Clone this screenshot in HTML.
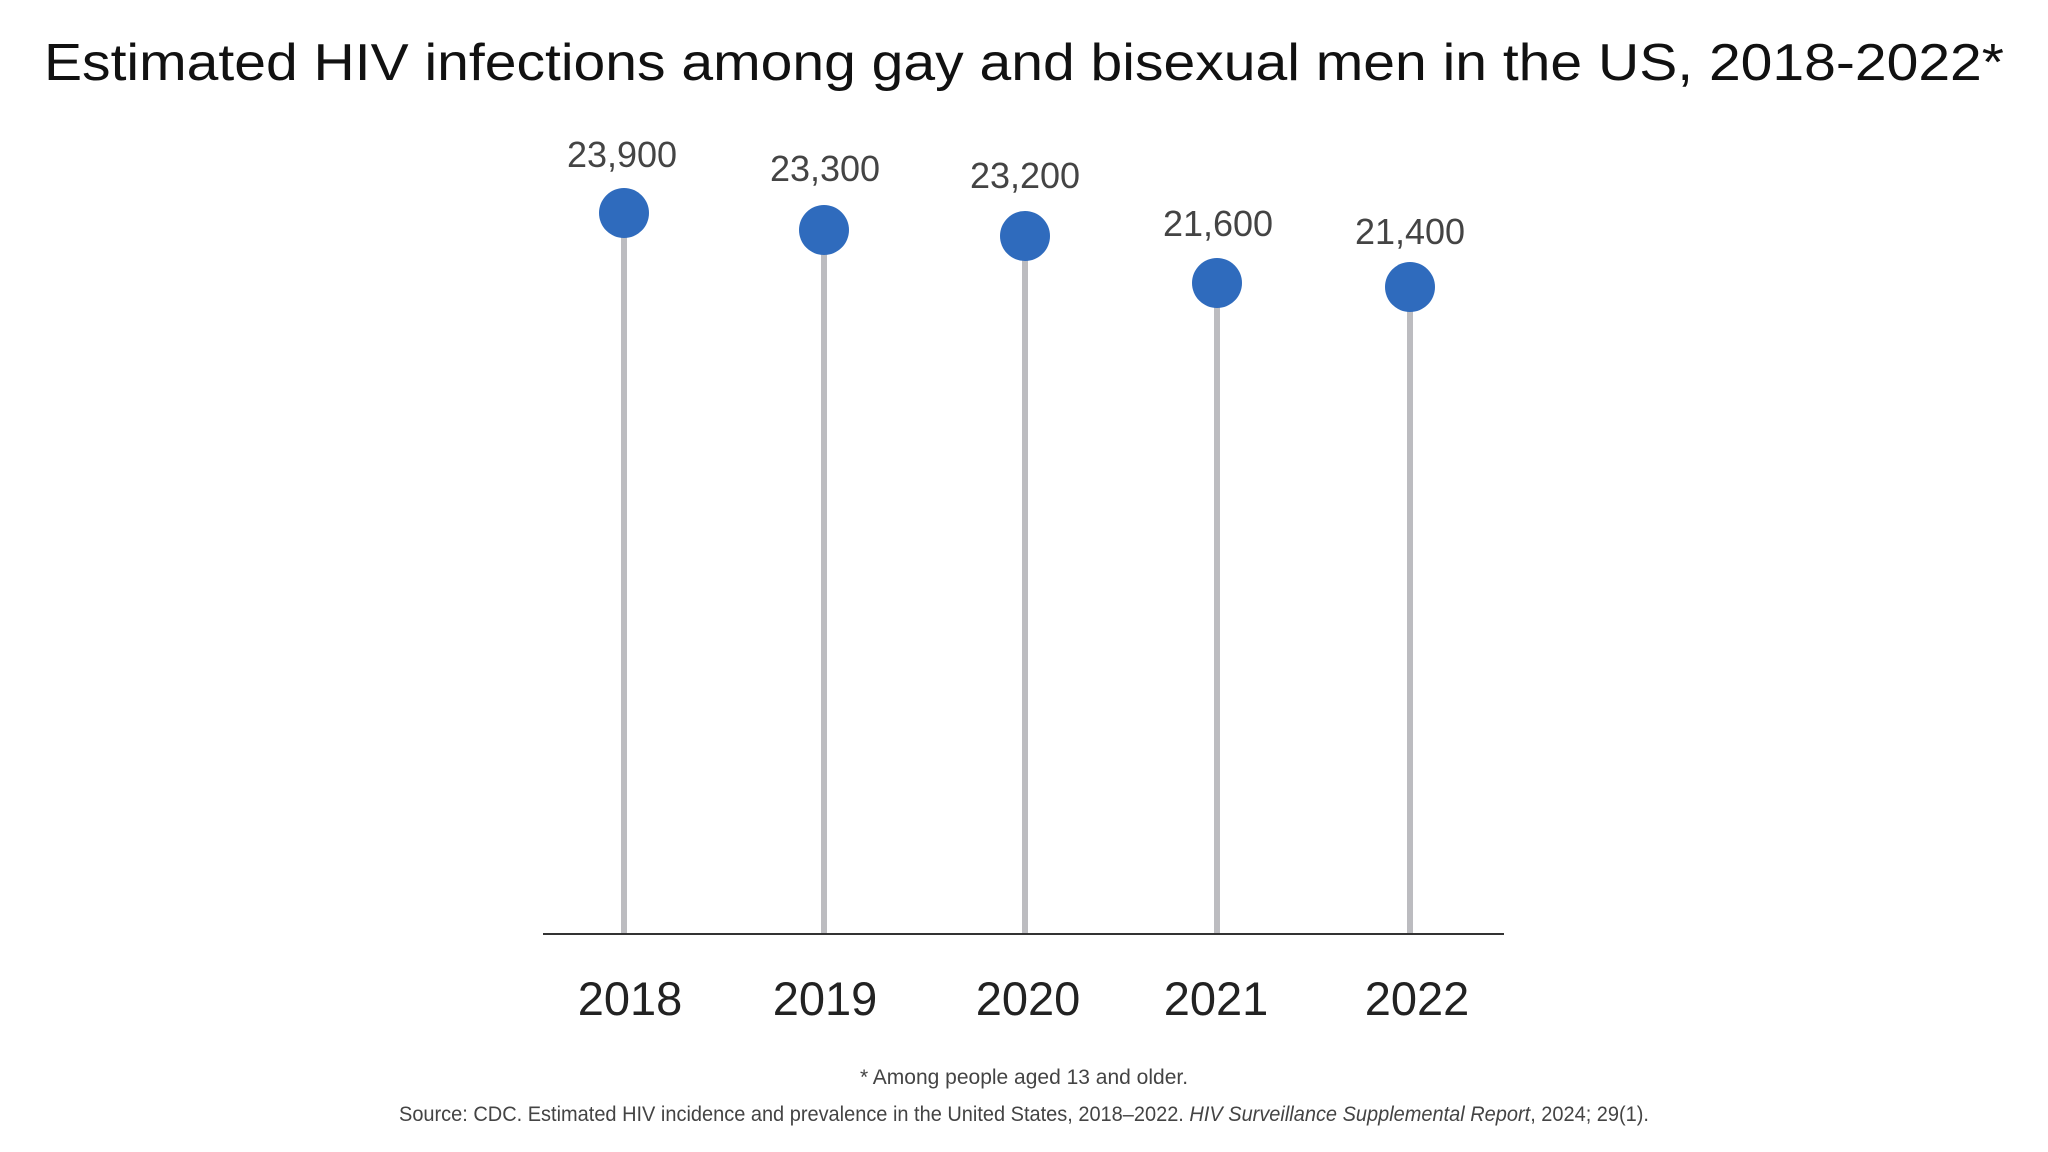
<!DOCTYPE html>
<html><head><meta charset="utf-8"><style>
html,body{margin:0;padding:0;background:#fff;}
svg{display:block;}
text{font-family:"Liberation Sans",sans-serif;}
</style></head><body>
<svg width="2048" height="1152" viewBox="0 0 2048 1152" xmlns="http://www.w3.org/2000/svg">
<text x="1024" y="80" text-anchor="middle" font-size="52" fill="#111" textLength="1960" lengthAdjust="spacingAndGlyphs">Estimated HIV infections among gay and bisexual men in the US, 2018-2022*</text>
<g stroke="#bcbcc0" stroke-width="6">
<line x1="624" y1="213" x2="624" y2="934"/>
<line x1="824" y1="230" x2="824" y2="934"/>
<line x1="1025" y1="236" x2="1025" y2="934"/>
<line x1="1217" y1="283" x2="1217" y2="934"/>
<line x1="1410" y1="287" x2="1410" y2="934"/>
</g>
<line x1="543" y1="934" x2="1504" y2="934" stroke="#333" stroke-width="2"/>
<g fill="#2f6bbd">
<circle cx="624" cy="213" r="25"/>
<circle cx="824" cy="230" r="25"/>
<circle cx="1025" cy="236" r="25"/>
<circle cx="1217" cy="283" r="25"/>
<circle cx="1410" cy="287" r="25"/>
</g>
<g font-size="36" fill="#444" text-anchor="middle">
<text x="622" y="167">23,900</text>
<text x="825" y="181">23,300</text>
<text x="1025" y="188">23,200</text>
<text x="1218" y="236">21,600</text>
<text x="1410" y="244">21,400</text>
</g>
<g font-size="47" fill="#222" text-anchor="middle">
<text x="630" y="1015">2018</text>
<text x="825" y="1015">2019</text>
<text x="1028" y="1015">2020</text>
<text x="1216" y="1015">2021</text>
<text x="1417" y="1015">2022</text>
</g>
<text x="1024" y="1084" text-anchor="middle" font-size="21" fill="#444">* Among people aged 13 and older.</text>
<text x="1024" y="1121" text-anchor="middle" font-size="21" fill="#444" textLength="1250" lengthAdjust="spacingAndGlyphs">Source: CDC. Estimated HIV incidence and prevalence in the United States, 2018–2022. <tspan font-style="italic">HIV Surveillance Supplemental Report</tspan>, 2024; 29(1).</text>
</svg>
</body></html>
